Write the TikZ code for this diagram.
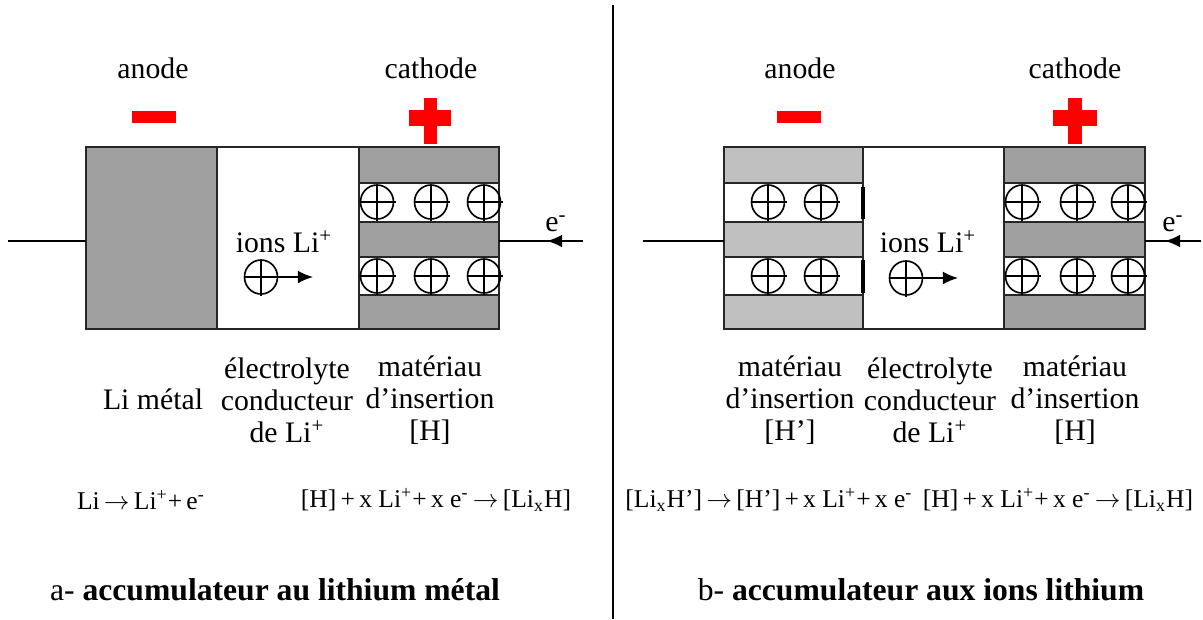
\documentclass[tikz,border=0pt]{standalone}
\usepackage{fontspec}
\setmainfont{Liberation Serif}
\usetikzlibrary{arrows.meta}

\begin{document}
\begin{tikzpicture}[x=0.015cm,y=-0.015cm,
  every node/.style={font=\fontsize{12.7}{13.7}\selectfont, inner sep=0pt},
  lbl/.style={align=center},
  eqn/.style={font=\fontsize{10.9}{13}\selectfont},
  capt/.style={font=\fontsize{13.5}{14}\selectfont},
  box/.style={draw=black!85, line width=1pt},
  wire/.style={line width=0.65pt},
  ion/.style={line width=0.7pt},
  tip/.style={-{Latex[length=6.5pt,width=5.5pt]}}]
  \definecolor{darkfill}{RGB}{160,160,160}
  \definecolor{lightfill}{RGB}{192,192,192}
  \definecolor{signred}{RGB}{255,0,0}
  \def\ionat(#1,#2){%
    \draw[ion] (#1,#2) ellipse (16.5 and 17);
    \draw[ion] (#1-16,#2) -- (#1+19,#2);
    \draw[ion] (#1,#2-17) -- (#1,#2+19);}
  \useasboundingbox (0,0) rectangle (1203,619);

  % a- lithium metal
  \draw[box, fill=darkfill] (86,147) rectangle (217,329);
  \draw[box] (217,147) rectangle (359,329);
  \foreach \ya/\yb in {147/183, 222/257, 295/329}
    \draw[box, fill=darkfill] (359,\ya) rectangle (499,\yb);
  \draw[box] (359,147) rectangle (499,329);
  \foreach \xa in {377,431,484} {
    \ionat(\xa,202)
    \ionat(\xa,276)
  }
  \fill[signred] (132,111) rectangle (176,123);
  \fill[signred] (424,98) rectangle (437,144);
  \fill[signred] (409,110) rectangle (451,126);

  \coordinate (wireA) at (8,241);
  \coordinate (anodeA) at (86,241);
  \draw[wire] (wireA) -- (anodeA);
  \coordinate (elecA) at (583,241);
  \coordinate (elecAtip) at (547,241);
  \coordinate (cathA) at (499,241);
  \draw[wire] (elecA) -- (cathA);
  \draw[wire, tip] (elecA) -- (elecAtip);
  \node (eA) at (556,224) {e\textsuperscript{-}};

  \ionat(261,277)
  \coordinate (ionA) at (261,277);
  \coordinate (ionAend) at (313,277);
  \draw[wire, tip] (ionA) -- (ionAend);
  \node (ionsA) at (284,242) {ions Li\textsuperscript{+}};

  \node (anodetxtA) at (153,68) {anode};
  \node (cathtxtA) at (431,68) {cathode};
  \node (metalA) at (153,399) {Li métal};
  \node[lbl] (electA) at (287,400) {électrolyte\\conducteur\\de Li\textsuperscript{+}};
  \node[lbl] (insA) at (430,400) {matériau\\d’insertion\\{[H]}};
  \node[eqn] (reacA) at (141,500) {Li\,$\rightarrow$\,Li\textsuperscript{+}+\,e\textsuperscript{-}};
  \node[eqn] (reacB) at (436,500) {[H]\,+\,x Li\textsuperscript{+}+\,x e\textsuperscript{-}\,$\rightarrow$\,[Li\textsubscript{x}H]};
  \node[capt] (captA) at (275,590) {a- \textbf{accumulateur au lithium métal}};

  \coordinate (divtop) at (613,5);
  \coordinate (divbot) at (613,619);
  \draw[wire] (divtop) -- (divbot);

  % b- lithium ions
  \foreach \ya/\yb in {147/183, 222/257, 295/329}
    \draw[box, fill=lightfill] (724,\ya) rectangle (863,\yb);
  \draw[box] (724,147) rectangle (863,329);
  \draw[box] (863,147) rectangle (1004,329);
  \draw[line width=1.8pt] (863,187) -- (863,219) (863,260) -- (863,293);
  \foreach \ya/\yb in {147/183, 222/257, 295/329}
    \draw[box, fill=darkfill] (1004,\ya) rectangle (1145,\yb);
  \draw[box] (1004,147) rectangle (1145,329);
  \foreach \xa in {768,821} {
    \ionat(\xa,202)
    \ionat(\xa,276)
  }
  \foreach \xa in {1022,1077,1128} {
    \ionat(\xa,202)
    \ionat(\xa,276)
  }
  \fill[signred] (777,111) rectangle (821,123);
  \fill[signred] (1068,98) rectangle (1082,144);
  \fill[signred] (1053,110) rectangle (1097,126);

  \coordinate (wireB) at (643,241);
  \coordinate (anodeB) at (724,241);
  \draw[wire] (wireB) -- (anodeB);
  \coordinate (elecB) at (1201,241);
  \coordinate (elecBtip) at (1165,241);
  \coordinate (cathB) at (1145,241);
  \draw[wire] (elecB) -- (cathB);
  \draw[wire, tip] (elecB) -- (elecBtip);
  \node (eB) at (1173,224) {e\textsuperscript{-}};

  \ionat(906,278)
  \coordinate (ionB) at (906,278);
  \coordinate (ionBend) at (958,278);
  \draw[wire, tip] (ionB) -- (ionBend);
  \node (ionsB) at (928,242) {ions Li\textsuperscript{+}};

  \node (anodetxtB) at (800,68) {anode};
  \node (cathtxtB) at (1075,68) {cathode};
  \node[lbl] (insB) at (790,400) {matériau\\d’insertion\\{[H’]}};
  \node[lbl] (electB) at (930,400) {électrolyte\\conducteur\\de Li\textsuperscript{+}};
  \node[lbl] (insC) at (1075,400) {matériau\\d’insertion\\{[H]}};
  \node[eqn] (reacC) at (769,500) {[Li\textsubscript{x}H’]\,$\rightarrow$\,[H’]\,+\,x Li\textsuperscript{+}+\,x e\textsuperscript{-}};
  \node[eqn] (reacD) at (1058,500) {[H]\,+\,x Li\textsuperscript{+}+\,x e\textsuperscript{-}\,$\rightarrow$\,[Li\textsubscript{x}H]};
  \node[capt] (captB) at (921,590) {b- \textbf{accumulateur aux ions lithium}};
\end{tikzpicture}
\end{document}
